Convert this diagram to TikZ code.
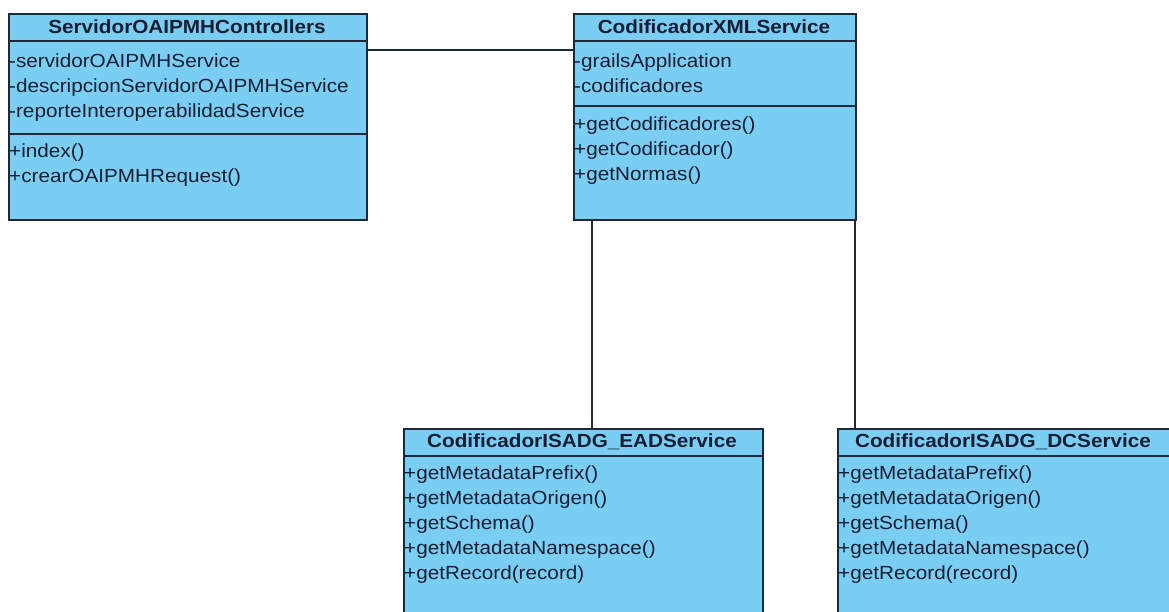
\documentclass[tikz,border=0pt]{standalone}
\usepackage{fontspec}
\setmainfont{Liberation Sans}[FakeStretch=1.09]
\usetikzlibrary{calc}
\definecolor{umlfill}{RGB}{123,206,243}
\definecolor{umlline}{RGB}{30,40,55}
\definecolor{umltext}{RGB}{20,30,50}
\tikzset{
  classbox/.style={draw=umlline, line width=1.6pt, fill=umlfill, rectangle, inner sep=0pt, anchor=north west},
  cname/.style={font=\fontsize{19}{22}\selectfont\bfseries, text=umltext, inner sep=0pt, text height=14pt, text depth=4pt},
  member/.style={font=\fontsize{19}{22}\selectfont, text=umltext, anchor=west, inner sep=0pt, text height=14pt, text depth=4pt},
  sep/.style={draw=umlline, line width=1.6pt},
  assoc/.style={draw=umlline, line width=1.5pt},
}
\begin{document}
\begin{tikzpicture}[x=1pt,y=-1pt]
\useasboundingbox (0,0) rectangle (1169,611);
\fill[white] (0,0) rectangle (1169,611);
\clip (0,0) rectangle (1169,611);

% class boxes
\node[classbox, minimum width=358pt, minimum height=206pt] (srv) at (8,13) {};
\node[classbox, minimum width=282pt, minimum height=206pt] (xml) at (573,13) {};
\node[classbox, minimum width=359pt, minimum height=192pt] (ead) at (403,428) {};
\node[classbox, minimum width=338pt, minimum height=192pt] (dc) at (837,428) {};

% compartment separators
\draw[sep] ($(srv.north west)+(0,28)$) -- ($(srv.north east)+(0,28)$);
\draw[sep] ($(srv.north west)+(0,121)$) -- ($(srv.north east)+(0,121)$);
\draw[sep] ($(xml.north west)+(0,28)$) -- ($(xml.north east)+(0,28)$);
\draw[sep] ($(xml.north west)+(0,93)$) -- ($(xml.north east)+(0,93)$);
\draw[sep] ($(ead.north west)+(0,28)$) -- ($(ead.north east)+(0,28)$);
\draw[sep] ($(dc.north west)+(0,28)$) -- ($(dc.north east)+(0,28)$);

% ServidorOAIPMHControllers
\node[cname] (srv-t) at (187,28) {ServidorOAIPMHControllers};
\node[member] (srv-a1) at (9,62) {-servidorOAIPMHService};
\node[member] (srv-a2) at (9,87) {-descripcionServidorOAIPMHService};
\node[member] (srv-a3) at (9,112) {-reporteInteroperabilidadService};
\node[member] (srv-m1) at (9,152) {+index()};
\node[member] (srv-m2) at (9,177) {+crearOAIPMHRequest()};

% CodificadorXMLService
\node[cname] (xml-t) at (714,28) {CodificadorXMLService};
\node[member] (xml-a1) at (574,62) {-grailsApplication};
\node[member] (xml-a2) at (574,87) {-codificadores};
\node[member] (xml-m1) at (574,125) {+getCodificadores()};
\node[member] (xml-m2) at (574,150) {+getCodificador()};
\node[member] (xml-m3) at (574,175) {+getNormas()};

% CodificadorISADG_EADService
\node[cname] (ead-t) at (582,442) {CodificadorISADG\_EADService};
\node[member] (ead-m1) at (404,474) {+getMetadataPrefix()};
\node[member] (ead-m2) at (404,499) {+getMetadataOrigen()};
\node[member] (ead-m3) at (404,524) {+getSchema()};
\node[member] (ead-m4) at (404,549) {+getMetadataNamespace()};
\node[member] (ead-m5) at (404,574) {+getRecord(record)};

% CodificadorISADG_DCService
\node[cname] (dc-t) at (1003,442) {CodificadorISADG\_DCService};
\node[member] (dc-m1) at (838,474) {+getMetadataPrefix()};
\node[member] (dc-m2) at (838,499) {+getMetadataOrigen()};
\node[member] (dc-m3) at (838,524) {+getSchema()};
\node[member] (dc-m4) at (838,549) {+getMetadataNamespace()};
\node[member] (dc-m5) at (838,574) {+getRecord(record)};

% associations
\coordinate (j1) at (0,50);
\coordinate (j2) at (592,0);
\coordinate (j3) at (855,0);
\draw[assoc] (srv.east |- j1) -- (xml.west |- j1);
\draw[assoc] (xml.south -| j2) -- (ead.north -| j2);
\draw[assoc] (xml.south -| j3) -- (dc.north -| j3);
\end{tikzpicture}
\end{document}
